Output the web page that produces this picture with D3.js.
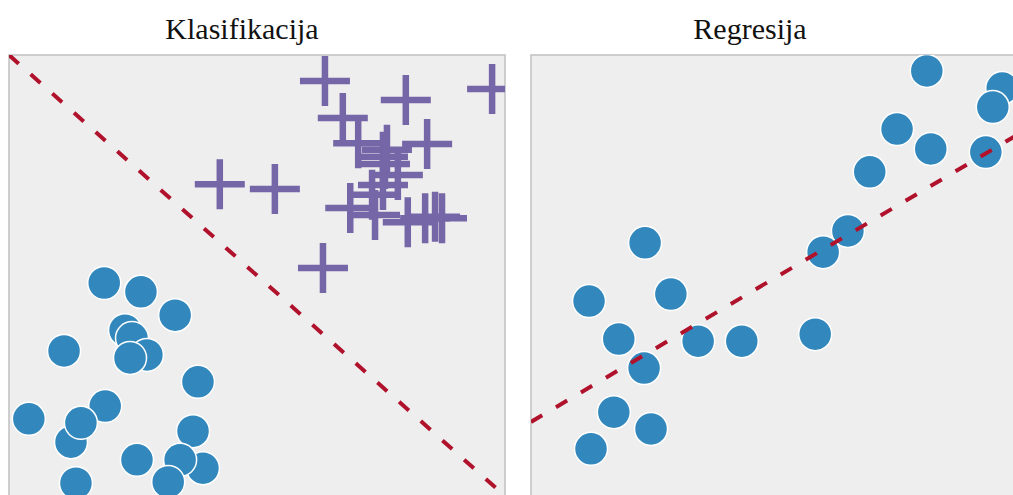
<!DOCTYPE html>
<html>
<head>
<meta charset="utf-8">
<script src="https://cdn.jsdelivr.net/npm/d3@7"></script>
<style>
  html, body { margin: 0; padding: 0; background: #fff; }
  svg { display: block; }
  .title { font-family: "Liberation Serif", Tinos, "Times New Roman", Times, "DejaVu Serif", serif; }
</style>
</head>
<body>
<svg id="chart" width="1013" height="495"></svg>
<script>
// ---- Data (panel units 0..100) ----
const panelTitles = ["Klasifikacija", "Regresija"];

// Classification: class A (crosses)
const crossX = [63.7, 97.4, 80.0, 67.3, 84.3, 70.4, 76.2, 75.4, 75.8, 78.4, 75.4, 73.2, 68.8, 73.8, 80.4, 83.9, 85.9, 87.3, 42.5, 53.6, 63.3];
const crossY = [94.1, 92.3, 89.8, 85.7, 79.8, 80.0, 78.5, 76.9, 75.3, 72.8, 70.5, 68.3, 65.3, 63.7, 62.1, 63.0, 63.3, 63.0, 70.7, 69.6, 51.7];

// Classification: class B (circles)
const clsCircX = [19.2, 26.6, 33.5, 23.4, 24.8, 27.8, 24.4, 11.1, 38.1, 19.4, 4.0, 12.5, 14.5, 37.1, 25.8, 39.1, 34.5, 13.5, 32.1];
const clsCircY = [48.3, 46.3, 41.0, 37.6, 35.8, 32.0, 31.3, 32.9, 25.9, 20.4, 17.5, 12.2, 16.6, 14.7, 8.2, 6.3, 8.2, 2.9, 3.2];

// Classification boundary (x, y)
const boundaryX = [0, 100];
const boundaryY = [100, 0];

// Regression points
const regX = [79.8, 95.0, 93.1, 73.8, 80.6, 91.7, 68.3, 63.9, 58.9, 23.0, 11.7, 28.2, 17.7, 33.7, 42.5, 57.3, 22.8, 16.7, 24.2, 12.1];
const regY = [96.4, 92.5, 88.2, 83.2, 78.7, 78.0, 73.5, 60.1, 55.3, 57.4, 44.2, 45.8, 35.6, 35.1, 35.1, 36.7, 29.0, 19.0, 15.2, 10.7];

// Regression fit line (x, y)
const fitX = [0, 100];
const fitY = [16.8, 83.2];

// ---- Layout ----
const svg = d3.select("#chart");
const panelW = 496, panelH = 441, panelTop = 55;
const panelLefts = [9, 531];
const titleX = [242, 750];

const circleColor = "#3288bd";
const crossColor = "#7566a7";
const lineColor = "#b0122c";

function makePanel(i) {
  const left = panelLefts[i];
  const x = d3.scaleLinear().domain([0, 100]).range([left, left + panelW]);
  const y = d3.scaleLinear().domain([0, 100]).range([panelTop + panelH, panelTop]);

  svg.append("text")
    .attr("class", "title")
    .attr("x", titleX[i]).attr("y", 39)
    .attr("text-anchor", "middle")
    .style("font-size", "30px")
    .attr("fill", "#111")
    .text(panelTitles[i]);

  const clipId = "clip" + i;
  svg.append("clipPath").attr("id", clipId)
    .append("rect")
    .attr("x", left).attr("y", panelTop)
    .attr("width", panelW).attr("height", panelH);

  svg.append("rect")
    .attr("x", left).attr("y", panelTop)
    .attr("width", panelW).attr("height", panelH)
    .attr("fill", "#eeeeee")
    .attr("stroke", "#c4c4c4")
    .attr("stroke-width", 1.6);

  const g = svg.append("g").attr("clip-path", `url(#${clipId})`);
  return { x, y, g };
}

// Panel 1: classification
{
  const { x, y, g } = makePanel(0);
  const circ = clsCircX.map((v, k) => ({ x: v, y: clsCircY[k] }));
  g.selectAll("circle").data(circ).join("circle")
    .attr("cx", d => x(d.x)).attr("cy", d => y(d.y))
    .attr("r", 16.5)
    .attr("fill", circleColor)
    .attr("stroke", "#ffffff").attr("stroke-width", 1.5);

  const crosses = crossX.map((v, k) => ({ x: v, y: crossY[k] }));
  const arm = 25;
  g.selectAll("path.cross").data(crosses).join("path")
    .attr("class", "cross")
    .attr("d", d => {
      const cx = x(d.x), cy = y(d.y);
      return `M${cx - arm},${cy}H${cx + arm}M${cx},${cy - arm}V${cy + arm}`;
    })
    .attr("stroke", crossColor).attr("stroke-width", 6.5)
    .attr("fill", "none");

  const bpts = boundaryX.map((v, k) => [x(v), y(boundaryY[k])]);
  g.append("path")
    .attr("d", d3.line()(bpts))
    .attr("stroke", lineColor).attr("stroke-width", 4)
    .attr("stroke-dasharray", "13,16")
    .attr("fill", "none");
}

// Panel 2: regression
{
  const { x, y, g } = makePanel(1);
  const pts = regX.map((v, k) => ({ x: v, y: regY[k] }));
  g.selectAll("circle").data(pts).join("circle")
    .attr("cx", d => x(d.x)).attr("cy", d => y(d.y))
    .attr("r", 16.5)
    .attr("fill", circleColor)
    .attr("stroke", "#ffffff").attr("stroke-width", 1.5);

  const fpts = fitX.map((v, k) => [x(v), y(fitY[k])]);
  g.append("path")
    .attr("d", d3.line()(fpts))
    .attr("stroke", lineColor).attr("stroke-width", 4)
    .attr("stroke-dasharray", "13,16")
    .attr("fill", "none");
}
</script>
</body>
</html>
